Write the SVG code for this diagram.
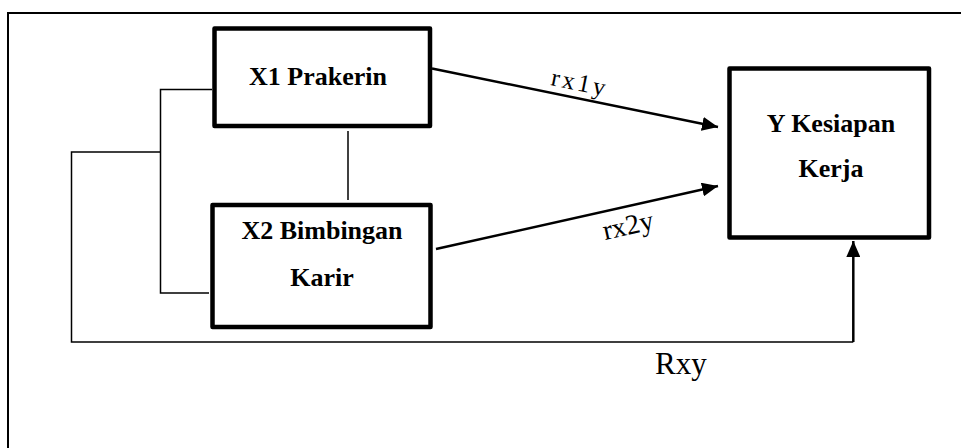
<svg xmlns="http://www.w3.org/2000/svg" width="961" height="448" viewBox="0 0 961 448">
<defs>
<style>
text{font-family:'Liberation Serif','Times New Roman',Times,'DejaVu Serif',serif}
.box{fill:#fff;stroke:#000;stroke-width:4.5;stroke-linejoin:round}
.bt{font-weight:bold;font-size:26px;text-anchor:middle;fill:#000}
.lt{fill:#000}
.thin{fill:none;stroke:#000;stroke-width:1.5}
.arr{fill:none;stroke:#000;stroke-width:2.5}
</style>
<marker id="ah" markerUnits="userSpaceOnUse" markerWidth="18" markerHeight="14" refX="16" refY="7" orient="auto">
<path d="M0,0 L16,7 L0,14 z" fill="#000"/>
</marker>
</defs>
<rect width="961" height="448" fill="#fff"/>
<path d="M8,448 V13 H961" fill="none" stroke="#000" stroke-width="2"/>
<g id="connectors">
<path class="thin" d="M212,89.5 H160.5 V293 H209"/>
<path class="thin" d="M160.5,152 H71.5 V342 H853.3"/>
<path class="thin" d="M348,131 V200"/>
<path class="arr" d="M853.3,342 V241" marker-end="url(#ah)"/>
<path class="arr" d="M432,68.5 L718,127" marker-end="url(#ah)"/>
<path class="arr" d="M436,249 L718,186" marker-end="url(#ah)"/>
<text class="lt" font-size="25" letter-spacing="3" transform="rotate(11.5 550 85)" x="550" y="85">rx1y</text>
<text class="lt" font-size="28" transform="rotate(-12.6 605 240)" x="605" y="240">rx2y</text>
<text class="lt" font-size="31" x="655" y="374">Rxy</text>
</g>
<g id="x1">
<rect class="box" x="214.5" y="28.5" width="215.5" height="97.5"/>
<text class="bt" x="318" y="85">X1 Prakerin</text>
</g>
<g id="x2">
<rect class="box" x="212.5" y="205" width="218" height="122"/>
<text class="bt" x="322" y="239">X2 Bimbingan</text>
<text class="bt" x="322" y="286">Karir</text>
</g>
<g id="y">
<rect class="box" x="729.5" y="68.5" width="199.5" height="169"/>
<text class="bt" x="831" y="131.5">Y Kesiapan</text>
<text class="bt" x="831" y="177">Kerja</text>
</g>
</svg>
